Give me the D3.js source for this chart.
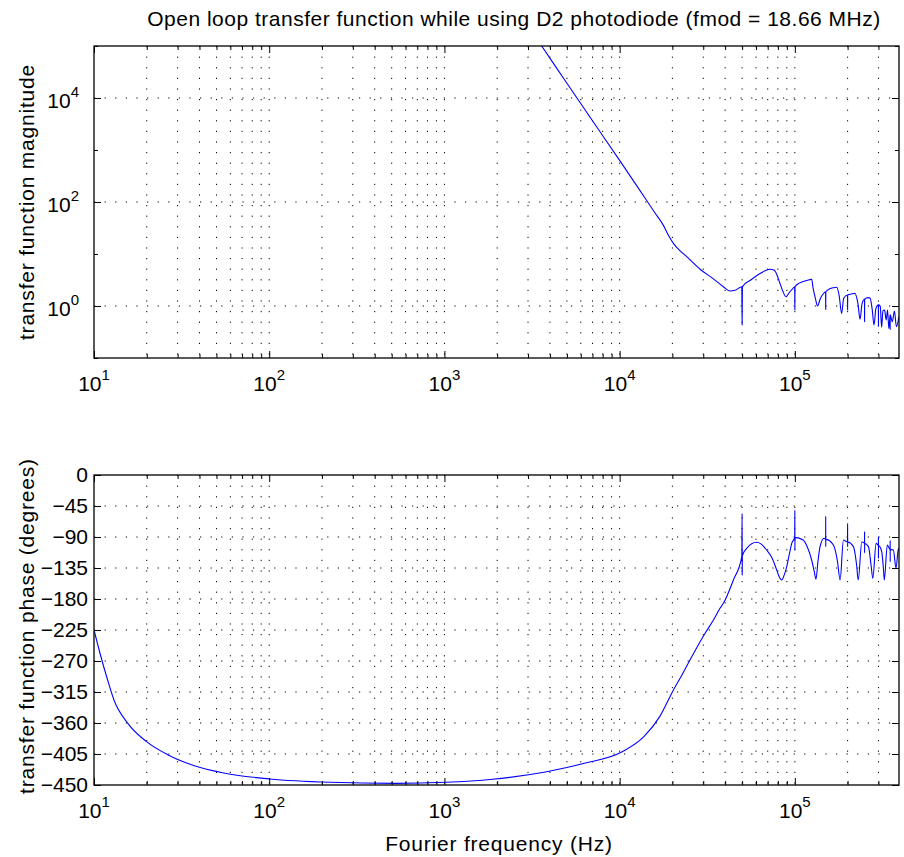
<!DOCTYPE html>
<html>
<head>
<meta charset="utf-8">
<script src="https://cdn.jsdelivr.net/npm/d3@7"></script>
<style>
  html, body { margin: 0; padding: 0; background: #fff; }
  svg { display: block; }
  text { font-family: "Liberation Sans", Arial, Helvetica, sans-serif; fill: #000; }
</style>
</head>
<body>
<div id="chart"></div>
<script>
// ---------------- data ----------------
const titleText = "Open loop transfer function while using D2 photodiode (fmod = 18.66 MHz)";
const xLabelText = "Fourier frequency (Hz)";
const magLabelText = "transfer function magnitude";
const phaseLabelText = "transfer function phase (degrees)";

const xMajorTicks = [10, 100, 1000, 10000, 100000];
const xTickExponents = [1, 2, 3, 4, 5];
const magMajorTicks = [1, 100, 10000];
const magTickExponents = [0, 2, 4];
const magMinorTicks = [0.1, 10, 1000, 100000];
const phaseTicks = [0, -45, -90, -135, -180, -225, -270, -315, -360, -405, -450];

const magFreq = [2818, 3589, 5012, 7079, 10000, 12590, 15850, 17780, 19050, 20420, 22130, 24150, 28770, 34000, 39100, 42700, 45500, 49800, 50000, 50200,
  56000, 63000, 68000, 72000, 76000, 79000, 82000, 85000, 89100, 93000, 97000, 99800, 100000, 100200,
  106000, 115000, 121000, 124700, 127000, 131000, 134600, 140000, 145000, 149800, 150000, 150200,
  158000, 166000, 173400, 179000, 185000, 190000, 199800, 200000, 200200,
  210000, 220000, 229000, 235500, 242000, 249800, 250000, 250200,
  262000, 269000, 276000, 283000, 290000, 299800, 300000, 300200,
  307000, 313000, 318000, 325000, 332000, 338000, 344000, 349800, 350000, 350200,
  360000, 370000, 380000, 393000];
const magValue = [3.3e5, 1.0e5, 1.9e4, 3450, 630, 200, 63, 35.5, 22.4, 15.5, 11.5, 8.9, 5.1, 3.4, 2.35, 1.94, 2.0, 2.35, 0.43, 2.36,
  3.16, 4.17, 4.8, 5.1, 4.9, 4.0, 2.8, 2.0, 1.51, 1.82, 2.14, 2.35, 0.84, 2.36,
  2.75, 3.05, 3.2, 3.26, 2.24, 1.4, 1.0, 1.41, 1.7, 1.88, 0.86, 1.88,
  2.14, 2.25, 2.29, 1.58, 0.72, 1.41, 1.63, 0.84, 1.63,
  1.7, 1.75, 1.12, 0.56, 1.12, 1.35, 0.5, 1.35,
  1.45, 1.41, 0.89, 0.43, 0.89, 1.05, 0.4, 1.05,
  1.0, 0.39, 0.8, 0.84, 0.54, 0.84, 0.37, 0.68, 0.35, 0.68,
  0.5, 0.8, 0.4, 0.63];

const phaseFreq = [10, 10.8, 11.96, 13.0, 15.6, 19.95, 26.5, 37.8, 54, 100.7, 223, 524, 1014, 1880, 3826, 6290, 10350, 13750, 17000, 20280, 22600, 25200, 27800, 30740, 34300, 37400, 39100, 44600,
  49800, 50000, 50050, 50150, 53100, 60500, 64000, 69000, 74000, 78800, 81500, 84200, 87000, 89900, 93000, 96000,
  99800, 100000, 100050, 100200, 111600, 118000, 124700, 129000, 132000, 135500, 139300, 146800,
  149900, 150000, 150050, 150200, 166000, 175000, 181200, 189400,
  199900, 200000, 200050, 200200, 216000, 225000, 230000, 241000,
  249900, 250000, 250050, 250200, 263000, 272000, 278600, 291000,
  299900, 300000, 300050, 300200, 313000, 320000, 324000, 337000,
  349900, 350000, 350050, 350200, 365000, 378000, 390000, 400000];
const phaseValue = [-225, -258, -297.6, -326.6, -360.5, -387.1, -406.4, -422.4, -432.1, -441.3, -446.1, -447.6, -446.1, -441.7, -430.7, -418.5, -401.7, -379.9, -350, -312, -291, -268.6, -249, -229.8, -210.5, -193.5, -186.3, -152.4,
  -118.6, -56, -145, -117, -106.4, -97.7, -100, -108.9, -120, -137.9, -148, -152.4, -145, -133, -115, -99.2,
  -90.4, -51, -109, -90.6, -94.4, -105, -123.4, -140, -151.4, -125, -104, -91.9,
  -93, -60, -104, -93.5, -101.6, -125, -152.4, -94.4,
  -97, -70, -104, -97.5, -104, -130, -152.4, -96.8,
  -99, -82, -113, -99.5, -104, -130, -150, -99.2,
  -102, -89.5, -121, -102.5, -111, -135, -152.4, -101.6,
  -108, -95, -126, -108, -108.9, -135.5, -106.4, -125];

// ---------------- layout ----------------
const W = 904, H = 857;
const left = 94, right = 899;
const top1 = 46, bot1 = 358;
const top2 = 475, bot2 = 785;
const majorLen = 7, minorLen = 4;
const FONT = 21;

const svg = d3.select("#chart").append("svg").attr("width", W).attr("height", H);

const x = d3.scaleLog().domain([10, 3.93e5]).range([left, right]);
const yMag = d3.scaleLog().domain([0.1, 1e5]).range([bot1, top1]);
const yPh = d3.scaleLinear().domain([-450, 0]).range([bot2, top2]);

// minor x ticks
const xMinor = [];
for (let d = 1; d <= 5; d++) {
  for (let m = 2; m <= 9; m++) {
    const v = m * Math.pow(10, d);
    if (v <= x.domain()[1]) xMinor.push(v);
  }
}
const xAllGrid = xMajorTicks.concat(xMinor).filter(v => v > 10);

const defs = svg.append("defs");
function clip(id, y0, y1) {
  defs.append("clipPath").attr("id", id).append("rect")
    .attr("x", left).attr("y", y0).attr("width", right - left).attr("height", y1 - y0);
}
clip("clipMag", top1, bot1);
clip("clipPh", top2, bot2);

const gridStyle = g => g.attr("stroke", "#000").attr("stroke-width", 1)
  .attr("stroke-dasharray", "1.2,9.4").attr("fill", "none");

function drawPanel(y, y0, y1, hGrid) {
  const g = svg.append("g");
  const gg = g.append("g").call(gridStyle);
  gg.selectAll("line.v").data(xAllGrid).join("line")
    .attr("x1", d => x(d)).attr("x2", d => x(d)).attr("y1", y0).attr("y2", y1);
  gg.selectAll("line.h").data(hGrid).join("line")
    .attr("y1", d => y(d)).attr("y2", d => y(d)).attr("x1", left).attr("x2", right);
  return g;
}

function drawFrameAndTicks(g, y, y0, y1, yMajor, yMinor) {
  const axB = d3.axisBottom(x).tickValues(xMajorTicks).tickSize(-majorLen).tickFormat("");
  const axBm = d3.axisBottom(x).tickValues(xMinor).tickSize(-minorLen).tickFormat("");
  const axT = d3.axisTop(x).tickValues(xMajorTicks).tickSize(-majorLen).tickFormat("");
  const axTm = d3.axisTop(x).tickValues(xMinor).tickSize(-minorLen).tickFormat("");
  const axL = d3.axisLeft(y).tickValues(yMajor).tickSize(-majorLen).tickFormat("");
  const axR = d3.axisRight(y).tickValues(yMajor).tickSize(-majorLen).tickFormat("");
  const list = [
    [axB, 0, y1], [axBm, 0, y1], [axT, 0, y0], [axTm, 0, y0],
    [axL, left, 0], [axR, right, 0]
  ];
  if (yMinor) {
    list.push([d3.axisLeft(y).tickValues(yMinor).tickSize(-minorLen).tickFormat(""), left, 0]);
    list.push([d3.axisRight(y).tickValues(yMinor).tickSize(-minorLen).tickFormat(""), right, 0]);
  }
  list.forEach(([ax, tx, ty]) => {
    const a = g.append("g").attr("transform", `translate(${tx},${ty})`).call(ax);
    a.select(".domain").remove();
    a.selectAll("line").attr("stroke", "#000").attr("stroke-width", 1);
  });
  g.append("rect").attr("x", left).attr("y", y0).attr("width", right - left).attr("height", y1 - y0)
    .attr("fill", "none").attr("stroke", "#000").attr("stroke-width", 1.3);
}

function sci(g, xx, yy, exp, anchor) {
  const t = g.append("text").attr("x", xx).attr("y", yy).attr("text-anchor", anchor)
    .attr("font-size", FONT);
  t.append("tspan").text("10");
  t.append("tspan").attr("dy", -11).attr("font-size", 15).text(exp);
  return t;
}

const lineGen = y => d3.line().curve(d3.curveMonotoneX).x(d => x(d[0])).y(d => y(d[1]));

// ---------------- top panel ----------------
const g1 = drawPanel(yMag, top1, bot1, magMajorTicks);
const magData = magFreq.map((f, i) => [f, magValue[i]]);
g1.append("path").datum(magData)
  .attr("clip-path", "url(#clipMag)")
  .attr("fill", "none").attr("stroke", "#0000ff").attr("stroke-width", 1.1)
  .attr("d", lineGen(yMag));
drawFrameAndTicks(g1, yMag, top1, bot1, magMajorTicks, magMinorTicks);
xMajorTicks.forEach((v, i) => sci(g1, x(v), bot1 + 33, xTickExponents[i], "middle"));
magMajorTicks.forEach((v, i) => sci(g1, 79, yMag(v) + 10, magTickExponents[i], "end"));

// ---------------- bottom panel ----------------
const g2 = drawPanel(yPh, top2, bot2, phaseTicks.filter(v => v !== 0 && v !== -450));
const phData = phaseFreq.map((f, i) => [f, phaseValue[i]]);
g2.append("path").datum(phData)
  .attr("clip-path", "url(#clipPh)")
  .attr("fill", "none").attr("stroke", "#0000ff").attr("stroke-width", 1.1)
  .attr("d", lineGen(yPh));
drawFrameAndTicks(g2, yPh, top2, bot2, phaseTicks, null);
xMajorTicks.forEach((v, i) => sci(g2, x(v), bot2 + 33, xTickExponents[i], "middle"));
phaseTicks.forEach(v => {
  g2.append("text").attr("x", 88).attr("y", yPh(v) + 7).attr("text-anchor", "end")
    .attr("font-size", FONT).text(v === 0 ? "0" : "\u2212" + Math.abs(v));
});

// ---------------- labels ----------------
svg.append("text").attr("x", 514).attr("y", 26).attr("text-anchor", "middle")
  .attr("font-size", FONT).attr("letter-spacing", 0.5).text(titleText);
svg.append("text").attr("x", 499).attr("y", 851).attr("text-anchor", "middle")
  .attr("font-size", FONT).attr("letter-spacing", 0.8).text(xLabelText);
svg.append("text").attr("transform", `translate(34,${(top1 + bot1) / 2}) rotate(-90)`)
  .attr("text-anchor", "middle").attr("font-size", FONT).attr("letter-spacing", 0.8).text(magLabelText);
svg.append("text").attr("transform", `translate(34,${(top2 + bot2) / 2 - 4}) rotate(-90)`)
  .attr("text-anchor", "middle").attr("font-size", FONT).attr("letter-spacing", 0.8).text(phaseLabelText);
</script>
</body>
</html>
